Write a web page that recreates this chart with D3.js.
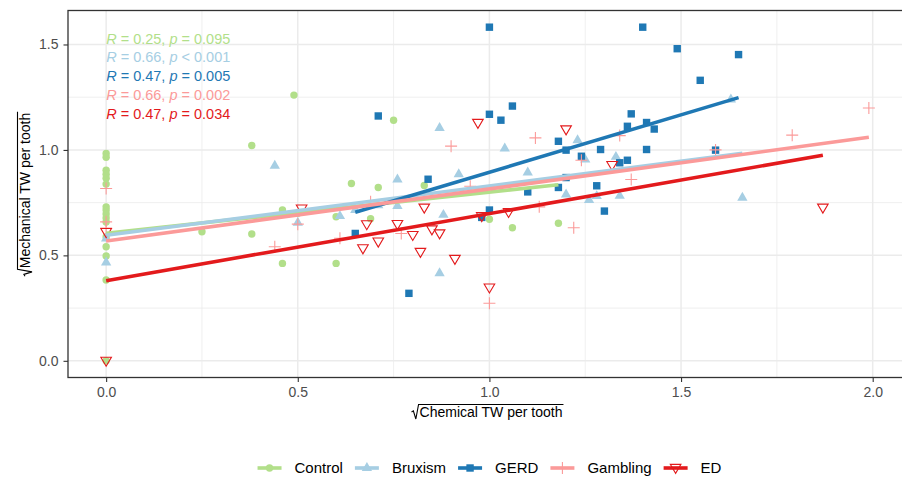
<!DOCTYPE html>
<html>
<head>
<meta charset="utf-8">
<script src="https://cdn.jsdelivr.net/npm/d3@7"></script>
<style>
  body { margin: 0; background: #fff; }
  text { font-family: "Liberation Sans", Arial, sans-serif; }
</style>
</head>
<body>
<svg id="chart" width="902" height="479"></svg>
<script>
// DATA -----------------------------------------------------------
const groups = ["Control", "Bruxism", "GERD", "Gambling", "ED"]
const colors = ["#B2DF8A", "#A6CEE3", "#1F78B4", "#FB9A99", "#E31A1C"]

const control = [
  [0, 0.983], [0, 0.965], [0, 0.904], [0, 0.885], [0, 0.866], [0, 0.838], [0, 0.730], [0, 0.715],
  [0, 0.696], [0, 0.677], [0, 0.658], [0, 0.587], [0, 0.541], [0, 0.497], [0, 0.383], [0, 0.0],
  [0.25, 0.612], [0.38, 1.021], [0.38, 0.601], [0.46, 0.715], [0.46, 0.462], [0.49, 1.26],
  [0.50, 0.70], [0.60, 0.683], [0.60, 0.462], [0.64, 0.841], [0.69, 0.674], [0.71, 0.822],
  [0.75, 1.141], [0.83, 0.831], [1.00, 0.671], [1.06, 0.631], [1.18, 0.652]
]
const bruxism = [
  [0, 0.466], [0, 0.58], [0.44, 0.925], [0.50, 0.655], [0.61, 0.686], [0.65, 0.715], [0.71, 0.737],
  [0.76, 0.860], [0.76, 0.734], [0.87, 1.104], [0.87, 0.415], [0.88, 0.692], [0.92, 0.885],
  [1.04, 1.007], [1.10, 0.893], [1.20, 0.789], [1.23, 1.046], [1.25, 0.954], [1.26, 0.762],
  [1.28, 0.781], [1.33, 0.967], [1.34, 0.782], [1.63, 1.239], [1.66, 0.773]
]
const gerd = [
  [0.65, 0.604], [0.71, 1.161], [0.79, 0.320], [0.84, 0.861], [0.98, 0.680], [1.00, 0.715],
  [1.00, 1.169], [1.00, 1.582], [1.03, 1.141], [1.06, 1.208], [1.10, 0.801], [1.18, 1.041],
  [1.18, 0.822], [1.20, 0.999], [1.20, 0.869], [1.24, 0.970], [1.28, 0.830], [1.29, 1.002],
  [1.30, 0.710], [1.34, 0.939], [1.36, 0.951], [1.36, 1.112], [1.37, 1.171], [1.40, 1.582],
  [1.41, 1.130], [1.41, 1.002], [1.43, 1.099], [1.49, 1.480], [1.55, 1.330], [1.59, 0.999],
  [1.65, 1.452]
]
const gambling = [
  [0, 0.817], [0, 0.659], [0, 0.630], [0.44, 0.541], [0.50, 0.648], [0.61, 0.581], [0.69, 0.754],
  [0.77, 0.604], [0.90, 1.018], [0.95, 0.828], [1.00, 0.273], [1.12, 1.057], [1.13, 0.730],
  [1.22, 0.631], [1.24, 0.951], [1.34, 1.068], [1.37, 0.860], [1.59, 1.000], [1.79, 1.070],
  [1.99, 1.199]
]
const ed = [
  [0, 0.610], [0, 0.0], [0.51, 0.722], [0.67, 0.533], [0.68, 0.647], [0.71, 0.565], [0.76, 0.648],
  [0.80, 0.596], [0.82, 0.516], [0.83, 0.726], [0.85, 0.623], [0.87, 0.604], [0.91, 0.483],
  [0.97, 1.128], [0.98, 0.686], [1.00, 0.347], [1.05, 0.705], [1.20, 1.097], [1.32, 0.928],
  [1.87, 0.726]
]

// regression line end points: [x0, y0, x1, y1]
const fitLines = [
  [0, 0.605, 1.18, 0.835],
  [0, 0.595, 1.66, 0.984],
  [0.65, 0.704, 1.65, 1.248],
  [0, 0.568, 1.99, 1.060],
  [0, 0.380, 1.87, 0.975]
]

const rValues = ["0.25", "0.66", "0.47", "0.66", "0.47"]
const pValues = ["= 0.095", "< 0.001", "= 0.005", "= 0.002", "= 0.034"]

const xTicks = [0, 0.5, 1, 1.5, 2]
const xMinor = [0.25, 0.75, 1.25, 1.75]
const yTicks = [0, 0.5, 1, 1.5]
const yMinor = [0.25, 0.75, 1.25]

const series = [control, bruxism, gerd, gambling, ed]

// LAYOUT -----------------------------------------------------------
const panel = { left: 68, right: 907, top: 10.5, bottom: 377.5 }

const svg = d3.select("#chart")

const xScale = d3.scaleLinear()
  .domain([-0.0995, 2.0895])
  .range([panel.left, panel.right])

const yScale = d3.scaleLinear()
  .domain([-0.0791, 1.6611])
  .range([panel.bottom, panel.top])

svg.append("defs").append("clipPath").attr("id", "clip")
  .append("rect")
  .attr("x", panel.left).attr("y", panel.top)
  .attr("width", panel.right - panel.left).attr("height", panel.bottom - panel.top)

const plot = svg.append("g").attr("clip-path", "url(#clip)")

// GRID -----------------------------------------------------------
plot.selectAll(".xminor").data(xMinor).join("line")
  .attr("x1", d => xScale(d)).attr("x2", d => xScale(d))
  .attr("y1", panel.top).attr("y2", panel.bottom)
  .attr("stroke", "#EBEBEB").attr("stroke-width", 0.8)
plot.selectAll(".yminor").data(yMinor).join("line")
  .attr("y1", d => yScale(d)).attr("y2", d => yScale(d))
  .attr("x1", panel.left).attr("x2", panel.right)
  .attr("stroke", "#EBEBEB").attr("stroke-width", 0.8)
plot.selectAll(".xmajor").data(xTicks).join("line")
  .attr("x1", d => xScale(d)).attr("x2", d => xScale(d))
  .attr("y1", panel.top).attr("y2", panel.bottom)
  .attr("stroke", "#EBEBEB").attr("stroke-width", 1.5)
plot.selectAll(".ymajor").data(yTicks).join("line")
  .attr("y1", d => yScale(d)).attr("y2", d => yScale(d))
  .attr("x1", panel.left).attr("x2", panel.right)
  .attr("stroke", "#EBEBEB").attr("stroke-width", 1.5)

// MARKERS -----------------------------------------------------------
function drawMarker(sel, gi, color) {
  if (gi === 0) {
    sel.append("circle").attr("r", 3.7).attr("fill", color)
  } else if (gi === 1) {
    sel.append("path").attr("d", d3.symbol(d3.symbolTriangle, 46)()).attr("fill", color)
  } else if (gi === 2) {
    sel.append("rect").attr("x", -3.7).attr("y", -3.7).attr("width", 7.4).attr("height", 7.4).attr("fill", color)
  } else if (gi === 3) {
    sel.append("path").attr("d", "M-6,0H6M0,-6V6").attr("stroke", color).attr("stroke-width", 1.1).attr("fill", "none")
  } else {
    sel.append("path").attr("d", "M-5.3,-3.6L5.3,-3.6L0,5.4Z")
      .attr("stroke", color).attr("stroke-width", 1.1).attr("fill", "none")
  }
}

series.forEach((pts, gi) => {
  const g = plot.append("g").attr("class", "pts-" + groups[gi])
  pts.forEach(p => {
    const m = g.append("g").attr("transform", `translate(${xScale(p[0])},${yScale(p[1])})`)
    drawMarker(m, gi, colors[gi])
  })
})

// FIT LINES -----------------------------------------------------------
fitLines.forEach((l, gi) => {
  plot.append("line")
    .attr("x1", xScale(l[0])).attr("y1", yScale(l[1]))
    .attr("x2", xScale(l[2])).attr("y2", yScale(l[3]))
    .attr("stroke", colors[gi]).attr("stroke-width", 3.6)
})

// CORRELATION LABELS -----------------------------------------------------------
rValues.forEach((r, i) => {
  const t = svg.append("text")
    .attr("x", xScale(0)).attr("y", 43.5 + i * 18.9)
    .attr("fill", colors[i]).style("font-size", "14.5px")
  t.append("tspan").style("font-style", "italic").text("R")
  t.append("tspan").text(" = " + r + ", ")
  t.append("tspan").style("font-style", "italic").text("p")
  t.append("tspan").text(" " + pValues[i])
})

// AXES -----------------------------------------------------------
const xAxis = svg.append("g")
  .attr("transform", `translate(0,${panel.bottom})`)
  .call(d3.axisBottom(xScale).tickValues(xTicks).tickFormat(d3.format(".1f")).tickSize(4.5).tickPadding(5))
const yAxis = svg.append("g")
  .attr("transform", `translate(${panel.left},0)`)
  .call(d3.axisLeft(yScale).tickValues(yTicks).tickFormat(d3.format(".1f")).tickSize(4.5).tickPadding(5))

;[xAxis, yAxis].forEach(a => {
  a.select(".domain").remove()
  a.selectAll(".tick line").attr("stroke", "#333333").attr("stroke-width", 1.1)
  a.selectAll(".tick text").attr("fill", "#4D4D4D").style("font-size", "14px")
    .style("font-family", `"Liberation Sans", Arial, sans-serif`)
})

svg.append("rect")
  .attr("x", panel.left).attr("y", panel.top)
  .attr("width", panel.right - panel.left).attr("height", panel.bottom - panel.top)
  .attr("fill", "none").attr("stroke", "#333333").attr("stroke-width", 1.3)

// axis titles with a square root sign
function sqrtTitle(g, label) {
  const txt = g.append("text").attr("x", 8).attr("y", 0)
    .style("font-size", "14px").attr("fill", "#000").text(label)
  const w = txt.node().getComputedTextLength()
  g.append("path")
    .attr("d", `M0,-4.5L1.8,-5.6L4.3,2.5L7,-12L${8 + w + 1},-12`)
    .attr("fill", "none").attr("stroke", "#000").attr("stroke-width", 1.1)
  return w + 9
}

const xt = svg.append("g")
const xw = sqrtTitle(xt, "Chemical TW per tooth")
xt.attr("transform", `translate(${(panel.left + panel.right) / 2 - xw / 2},416.5)`)

const yt = svg.append("g")
const yw = sqrtTitle(yt, "Mechanical TW per tooth")
yt.attr("transform", `translate(29.5,${(panel.top + panel.bottom) / 2 + yw / 2}) rotate(-90)`)

// LEGEND -----------------------------------------------------------
const legend = svg.append("g")
let lx = 0
groups.forEach((name, gi) => {
  const item = legend.append("g").attr("transform", `translate(${lx},0)`)
  item.append("line").attr("x1", 0).attr("x2", 24).attr("y1", 0).attr("y2", 0)
    .attr("stroke", colors[gi]).attr("stroke-width", 3.6)
  drawMarker(item.append("g").attr("transform", "translate(12,0)"), gi, colors[gi])
  const t = item.append("text").attr("x", 37).attr("y", 5.3)
    .style("font-size", "15px").attr("fill", "#000").text(name)
  lx += 37 + t.node().getComputedTextLength() + 12
})
lx -= 12
legend.attr("transform", `translate(${489.5 - lx / 2},468)`)
</script>
</body>
</html>
